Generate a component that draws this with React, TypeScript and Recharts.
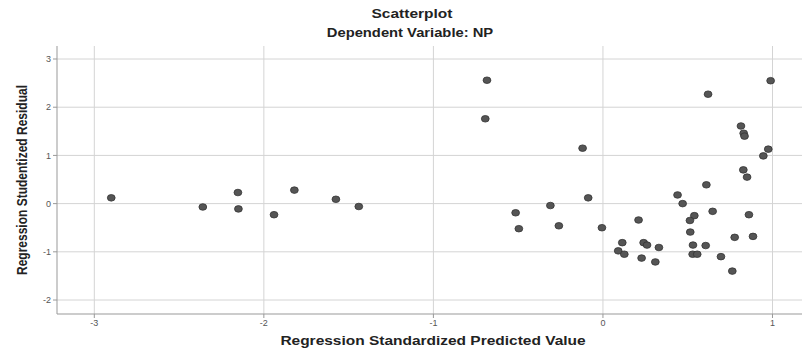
import React from "react";
import { ScatterChart, Scatter, XAxis, YAxis, CartesianGrid } from "recharts";

const predicted = [
  -2.9, -2.36, -2.153, -2.15, -1.94, -1.82, -1.575, -1.44,
  -0.684, -0.694, -0.12, -0.087, -0.31, -0.515, -0.496, -0.26, -0.006,
  0.989, 0.62, 0.814, 0.83, 0.835, 0.975, 0.946, 0.828, 0.85, 0.61,
  0.44, 0.47, 0.647, 0.539, 0.513, 0.861, 0.21, 0.515, 0.777, 0.885,
  0.114, 0.24, 0.26, 0.531, 0.606, 0.33, 0.09, 0.126, 0.529, 0.556,
  0.696, 0.228, 0.309, 0.763,
];
const residual = [
  0.12, -0.07, 0.23, -0.11, -0.23, 0.28, 0.09, -0.06,
  2.56, 1.76, 1.15, 0.12, -0.04, -0.19, -0.52, -0.46, -0.5,
  2.55, 2.27, 1.61, 1.46, 1.4, 1.13, 0.99, 0.7, 0.55, 0.39,
  0.18, 0.0, -0.16, -0.25, -0.35, -0.23, -0.34, -0.59, -0.7, -0.68,
  -0.81, -0.81, -0.86, -0.86, -0.87, -0.91, -0.98, -1.05, -1.05, -1.05,
  -1.1, -1.13, -1.21, -1.4,
];
const xTicks = [-3, -2, -1, 0, 1];
const yTicks = [-2, -1, 0, 1, 2, 3];

const points = predicted.map((x, i) => ({ x, y: residual[i] }));

const Dot = (props: any) => {
  const { cx, cy } = props;
  if (cx == null || cy == null) return null;
  return <ellipse cx={cx} cy={cy} rx={3.9} ry={3.3} fill="#555555" stroke="#333333" strokeWidth={0.8} />;
};

const font = "'Liberation Sans', Arial, sans-serif";

const textStyle = (cx: number, cy: number, size: number, sx: number): React.CSSProperties => ({
  position: "absolute",
  left: cx - 300,
  width: 600,
  top: cy - size * 0.6,
  lineHeight: `${size * 1.2}px`,
  textAlign: "center",
  fontSize: size,
  fontWeight: "bold",
  color: "#222",
  whiteSpace: "nowrap",
  transform: `scaleX(${sx})`,
  transformOrigin: "50% 50%",
});

export default function App() {
  return (
    <div style={{ position: "absolute", left: 0, top: 0, width: 802, height: 351, background: "#fff", fontFamily: font, overflow: "hidden" }}>
      <ScatterChart width={802} height={351} margin={{ top: 46, right: 0, bottom: 0, left: 0 }}>
        <CartesianGrid stroke="#d4d4d4" strokeWidth={1} horizontalValues={yTicks} verticalValues={xTicks} />
        <XAxis
          type="number"
          dataKey="x"
          domain={[-3.22, 1.174]}
          ticks={xTicks}
          allowDataOverflow
          height={37}
          stroke="#999"
          tickSize={4}
          tick={{ fontSize: 9, fill: "#555", fontFamily: font }}
          tickLine={{ stroke: "#999" }}
        />
        <YAxis
          type="number"
          dataKey="y"
          domain={[-2.29, 3.27]}
          ticks={yTicks}
          allowDataOverflow
          width={57}
          stroke="#999"
          tickSize={4}
          tick={{ fontSize: 9, fill: "#555", fontFamily: font }}
          tickLine={{ stroke: "#999" }}
        />
        <Scatter data={points} shape={<Dot />} isAnimationActive={false} />
      </ScatterChart>
      <div style={textStyle(412, 14, 12.5, 1.24)}>Scatterplot</div>
      <div style={textStyle(410, 33, 12.5, 1.18)}>Dependent Variable: NP</div>
      <div style={textStyle(433, 341, 13, 1.19)}>Regression Standardized Predicted Value</div>
      <div
        style={{
          position: "absolute",
          left: 22 - 150,
          top: 180 - 8,
          width: 300,
          lineHeight: "16px",
          textAlign: "center",
          fontSize: 12,
          fontWeight: "bold",
          color: "#222",
          whiteSpace: "nowrap",
          transform: "rotate(-90deg) scaleY(1.2)",
          transformOrigin: "50% 50%",
        }}
      >
        Regression Studentized Residual
      </div>
    </div>
  );
}
